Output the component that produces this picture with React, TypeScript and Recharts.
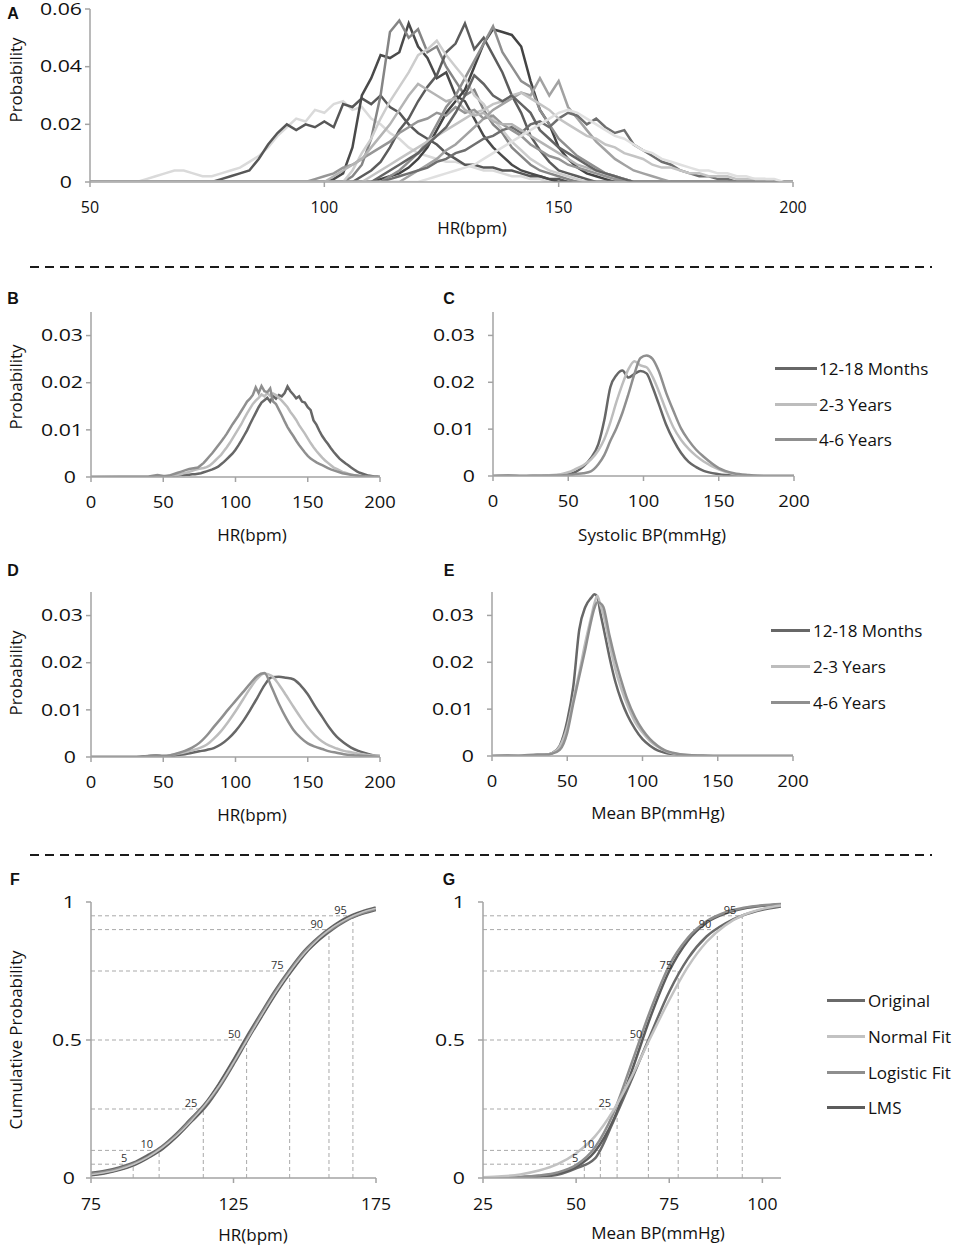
import React from 'react';
import { LineChart, Line, XAxis, YAxis, ReferenceLine, ReferenceDot } from 'recharts';

const FONT = '"Open Sans", "DejaVu Sans", sans-serif';
const AXIS = '#a3a3a3';

// ---------- Panel A: HR probability per age group, 2 bpm bins ----------
const aXTicks = [50, 100, 150, 200];
const aYTicks = [0, 0.02, 0.04, 0.06];
const aStarts = [60, 76, 100, 104, 106, 110, 112, 104, 116, 112, 108, 96, 100, 110, 120];
const aColors = ['#dadada', '#575757', '#4a4a4a', '#858585', '#5c5c5c', '#434343', '#8f8f8f', '#cdcdcd', '#a2a2a2', '#6f6f6f', '#c4c4c4', '#969696', '#b4b4b4', '#646464', '#e0e0e0'];
const a01 = [0, 0.001, 0.002, 0.003, 0.004, 0.004, 0.003, 0.002, 0.002, 0.003, 0.004, 0.005, 0.007, 0.009, 0.012, 0.016, 0.019, 0.022, 0.021, 0.025, 0.024, 0.027, 0.028, 0.025, 0.026, 0.022, 0.02, 0.017, 0.015, 0.012, 0.01, 0.009, 0.008, 0.007, 0.007, 0.006, 0.005, 0.004, 0.004, 0.003, 0.002, 0.002, 0.001, 0.001, 0];
const a02 = [0, 0.001, 0.002, 0.003, 0.004, 0.008, 0.013, 0.017, 0.02, 0.018, 0.02, 0.019, 0.021, 0.019, 0.027, 0.026, 0.029, 0.027, 0.03, 0.026, 0.024, 0.02, 0.017, 0.015, 0.013, 0.01, 0.008, 0.006, 0.006, 0.005, 0.005, 0.004, 0.004, 0.003, 0.002, 0.002, 0.001, 0.001, 0];
const a03 = [0, 0.001, 0.003, 0.012, 0.03, 0.036, 0.044, 0.043, 0.045, 0.055, 0.047, 0.043, 0.036, 0.038, 0.03, 0.028, 0.022, 0.016, 0.012, 0.009, 0.006, 0.004, 0.003, 0.002, 0.001, 0];
const a04 = [0, 0.002, 0.006, 0.015, 0.03, 0.052, 0.056, 0.05, 0.053, 0.045, 0.047, 0.04, 0.035, 0.03, 0.032, 0.025, 0.02, 0.017, 0.012, 0.009, 0.006, 0.004, 0.003, 0.002, 0.001, 0];
const a05 = [0, 0.002, 0.004, 0.007, 0.012, 0.018, 0.022, 0.028, 0.033, 0.037, 0.045, 0.048, 0.055, 0.046, 0.05, 0.044, 0.038, 0.03, 0.024, 0.016, 0.011, 0.007, 0.004, 0.003, 0.002, 0.001, 0];
const a06 = [0, 0.001, 0.002, 0.003, 0.005, 0.008, 0.012, 0.018, 0.024, 0.028, 0.032, 0.04, 0.048, 0.053, 0.052, 0.051, 0.047, 0.035, 0.025, 0.02, 0.012, 0.008, 0.005, 0.003, 0.002, 0.001, 0];
const a07 = [0, 0.002, 0.004, 0.007, 0.01, 0.014, 0.02, 0.026, 0.03, 0.036, 0.042, 0.048, 0.054, 0.045, 0.04, 0.035, 0.033, 0.025, 0.02, 0.015, 0.012, 0.009, 0.007, 0.005, 0.003, 0.002, 0.001, 0];
const a08 = [0, 0.004, 0.01, 0.015, 0.022, 0.028, 0.033, 0.038, 0.044, 0.046, 0.049, 0.044, 0.04, 0.036, 0.03, 0.027, 0.022, 0.018, 0.014, 0.011, 0.008, 0.006, 0.004, 0.003, 0.002, 0.001, 0];
const a09 = [0, 0.002, 0.004, 0.006, 0.008, 0.011, 0.013, 0.016, 0.019, 0.022, 0.025, 0.027, 0.029, 0.031, 0.03, 0.036, 0.03, 0.035, 0.026, 0.022, 0.018, 0.014, 0.011, 0.008, 0.006, 0.004, 0.003, 0.002, 0.001, 0];
const a10 = [0, 0.001, 0.002, 0.003, 0.004, 0.005, 0.007, 0.008, 0.01, 0.011, 0.013, 0.015, 0.016, 0.018, 0.019, 0.017, 0.02, 0.021, 0.019, 0.022, 0.024, 0.023, 0.02, 0.022, 0.019, 0.017, 0.018, 0.013, 0.011, 0.009, 0.007, 0.006, 0.004, 0.003, 0.002, 0.002, 0.001, 0.001, 0];
const a11 = [0, 0.002, 0.004, 0.006, 0.008, 0.01, 0.012, 0.014, 0.016, 0.018, 0.02, 0.022, 0.024, 0.025, 0.027, 0.028, 0.03, 0.031, 0.029, 0.027, 0.025, 0.022, 0.02, 0.018, 0.016, 0.015, 0.013, 0.012, 0.01, 0.009, 0.008, 0.006, 0.005, 0.005, 0.004, 0.003, 0.003, 0.002, 0.002, 0.002, 0.001, 0.001, 0.001, 0.001, 0];
const a12 = [0, 0.001, 0.002, 0.003, 0.005, 0.006, 0.008, 0.01, 0.012, 0.014, 0.017, 0.019, 0.021, 0.022, 0.024, 0.023, 0.026, 0.024, 0.025, 0.022, 0.023, 0.02, 0.018, 0.016, 0.013, 0.011, 0.009, 0.008, 0.006, 0.005, 0.004, 0.003, 0.002, 0.001, 0.001, 0];
const a13 = [0, 0.002, 0.004, 0.006, 0.008, 0.012, 0.016, 0.02, 0.025, 0.03, 0.034, 0.032, 0.03, 0.028, 0.029, 0.025, 0.023, 0.024, 0.021, 0.02, 0.02, 0.018, 0.016, 0.014, 0.012, 0.01, 0.008, 0.006, 0.005, 0.004, 0.003, 0.002, 0.001, 0];
const a14 = [0, 0.002, 0.004, 0.006, 0.008, 0.01, 0.013, 0.016, 0.019, 0.024, 0.03, 0.037, 0.034, 0.03, 0.028, 0.03, 0.027, 0.024, 0.018, 0.015, 0.012, 0.01, 0.008, 0.006, 0.004, 0.003, 0.002, 0.001, 0];
const a15 = [0, 0.001, 0.002, 0.003, 0.004, 0.005, 0.006, 0.008, 0.01, 0.012, 0.014, 0.016, 0.018, 0.02, 0.022, 0.024, 0.025, 0.024, 0.022, 0.02, 0.018, 0.016, 0.015, 0.013, 0.011, 0.01, 0.008, 0.007, 0.006, 0.005, 0.004, 0.004, 0.003, 0.003, 0.002, 0.002, 0.001, 0.001, 0.001, 0];
const aSeries = [a01, a02, a03, a04, a05, a06, a07, a08, a09, a10, a11, a12, a13, a14, a15];

// ---------- Panels B-E: three age groups ----------
const groupNames = ['12-18 Months', '2-3 Years', '4-6 Years'];
const groupColors = ['#676767', '#bdbdbd', '#8f8f8f'];
const densXTicks = [0, 50, 100, 150, 200];
const densYTicks = [0, 0.01, 0.02, 0.03];

// B: HR raw histogram, 2 bpm bins from 40
const bStart = 40;
const bMonths = [0, 0, 0.0001, 0.0001, 0.0001, 0.0001, 0.0001, 0.0001, 0.0002, 0.0003, 0.0003, 0.0004, 0.0004, 0.0005, 0.0005, 0.0006, 0.0006, 0.0007, 0.0008, 0.001, 0.0012, 0.0014, 0.0016, 0.0019, 0.0022, 0.0027, 0.0032, 0.0038, 0.0044, 0.005, 0.0058, 0.0067, 0.0077, 0.0088, 0.0099, 0.0112, 0.0124, 0.0136, 0.0148, 0.0158, 0.0163, 0.0168, 0.016, 0.0172, 0.0166, 0.0174, 0.0171, 0.0178, 0.0192, 0.0182, 0.0175, 0.0167, 0.0171, 0.016, 0.0158, 0.0148, 0.0142, 0.012, 0.0111, 0.0098, 0.0087, 0.0078, 0.007, 0.0061, 0.0053, 0.0046, 0.0039, 0.0034, 0.0029, 0.0025, 0.002, 0.0016, 0.0012, 0.0009, 0.0007, 0.0005, 0.0003, 0.0002, 0.0001, 0.0001, 0];
const bYears23 = [0, 0, 0.0001, 0.0001, 0.0001, 0.0001, 0.0002, 0.0002, 0.0003, 0.0004, 0.0005, 0.0006, 0.0008, 0.0009, 0.0011, 0.0013, 0.0015, 0.0017, 0.0018, 0.0019, 0.0021, 0.0024, 0.0029, 0.0035, 0.0041, 0.0047, 0.0055, 0.0063, 0.0072, 0.0082, 0.0092, 0.0102, 0.0112, 0.0124, 0.0135, 0.0145, 0.0155, 0.0162, 0.0168, 0.0175, 0.0171, 0.0178, 0.0172, 0.0177, 0.0174, 0.0168, 0.0162, 0.0155, 0.0148, 0.0138, 0.013, 0.0121, 0.011, 0.0101, 0.0092, 0.0082, 0.0072, 0.0063, 0.0055, 0.0048, 0.0041, 0.0035, 0.003, 0.0025, 0.002, 0.0017, 0.0014, 0.0011, 0.0009, 0.0007, 0.0005, 0.0004, 0.0003, 0.0002, 0.0001, 0.0001, 0, 0, 0, 0, 0];
const bYears46 = [0.0001, 0.0002, 0.0003, 0.0004, 0.0003, 0.0002, 0.0002, 0.0003, 0.0005, 0.0007, 0.0009, 0.0011, 0.0013, 0.0015, 0.0017, 0.0018, 0.0019, 0.002, 0.0025, 0.003, 0.0037, 0.0044, 0.0051, 0.0059, 0.0067, 0.0075, 0.0083, 0.0092, 0.0102, 0.0112, 0.0121, 0.013, 0.014, 0.015, 0.016, 0.0166, 0.0174, 0.019, 0.0178, 0.0193, 0.0182, 0.018, 0.0188, 0.016, 0.0155, 0.0143, 0.0131, 0.0118, 0.0106, 0.0096, 0.0087, 0.0077, 0.0068, 0.006, 0.0052, 0.0045, 0.0039, 0.0035, 0.0031, 0.0028, 0.0025, 0.0022, 0.0019, 0.0016, 0.0014, 0.0012, 0.001, 0.0008, 0.0007, 0.0006, 0.0005, 0.0004, 0.0003, 0.0002, 0.0002, 0.0001, 0.0001, 0.0001, 0, 0, 0];

// C: systolic BP
const cGrid = [0, 10, 20, 30, 40, 45, 50, 55, 60, 65, 70, 74, 78, 82, 86, 90, 94, 98, 102, 106, 110, 115, 120, 125, 130, 135, 140, 150, 160, 170, 180, 190, 200];
const cMonths = [0, 0.0001, 0, 0.0001, 0.0001, 0.0002, 0.0004, 0.0009, 0.002, 0.0038, 0.0068, 0.012, 0.019, 0.0215, 0.0225, 0.021, 0.0218, 0.0224, 0.0219, 0.019, 0.0155, 0.011, 0.0076, 0.0049, 0.003, 0.0019, 0.0011, 0.0004, 0.0001, 0, 0, 0, 0];
const cYears23 = [0, 0, 0, 0.0001, 0.0002, 0.0004, 0.0008, 0.0015, 0.0023, 0.0035, 0.0055, 0.0079, 0.0115, 0.0158, 0.0196, 0.0228, 0.0245, 0.0236, 0.0232, 0.0212, 0.0182, 0.014, 0.0103, 0.0077, 0.0058, 0.0043, 0.0031, 0.0014, 0.0004, 0.0001, 0, 0, 0];
const cYears46 = [0, 0, 0, 0, 0.0001, 0.0001, 0.0002, 0.0004, 0.0006, 0.001, 0.0025, 0.0045, 0.0075, 0.0102, 0.0135, 0.0175, 0.0218, 0.0252, 0.0257, 0.025, 0.0225, 0.0178, 0.0138, 0.0101, 0.0076, 0.0056, 0.0041, 0.0017, 0.0006, 0.0002, 0, 0, 0];

// D: HR smoothed, 5 bpm steps from 0
const dStart = 0;
const dMonths = [0, 0, 0, 0, 0, 0, 0, 0.0001, 0.0002, 0.0003, 0.0002, 0.0002, 0.0004, 0.0006, 0.0009, 0.0012, 0.0015, 0.0019, 0.0027, 0.0039, 0.0055, 0.0075, 0.0099, 0.0125, 0.0152, 0.0169, 0.017, 0.0168, 0.0165, 0.0152, 0.0133, 0.0108, 0.0085, 0.0062, 0.0043, 0.003, 0.002, 0.0013, 0.0008, 0.0004, 0.0002];
const dYears23 = [0, 0, 0, 0, 0, 0, 0, 0, 0.0001, 0.0001, 0.0002, 0.0004, 0.0007, 0.001, 0.0014, 0.0019, 0.0026, 0.0039, 0.0055, 0.0075, 0.0097, 0.0121, 0.0145, 0.0166, 0.0177, 0.0172, 0.0154, 0.0131, 0.0107, 0.0084, 0.0063, 0.0046, 0.0033, 0.0024, 0.0018, 0.0013, 0.001, 0.0007, 0.0005, 0.0003, 0.0002];
const dYears46 = [0, 0, 0, 0, 0, 0, 0, 0, 0.0002, 0.0003, 0.0002, 0.0004, 0.0008, 0.0013, 0.002, 0.003, 0.0045, 0.0064, 0.0082, 0.0101, 0.0119, 0.0137, 0.0155, 0.0172, 0.0178, 0.0148, 0.0113, 0.0083, 0.0058, 0.0041, 0.0029, 0.0022, 0.0017, 0.0012, 0.0009, 0.0006, 0.0004, 0.0003, 0.0002, 0.0001, 0];

// E: mean BP
const eGrid = [0, 10, 20, 30, 35, 40, 45, 50, 54, 58, 62, 66, 68, 70, 72, 74, 78, 82, 86, 90, 95, 100, 105, 110, 115, 120, 130, 140, 150, 160, 170, 180, 190, 200];
const eMonths = [0, 0.0001, 0, 0.0002, 0.0002, 0.0006, 0.0022, 0.0075, 0.0148, 0.027, 0.0318, 0.0338, 0.0345, 0.034, 0.0305, 0.0275, 0.0212, 0.0158, 0.0118, 0.0087, 0.0058, 0.0036, 0.0022, 0.0012, 0.0007, 0.0004, 0.0001, 0, 0, 0, 0, 0, 0, 0];
const eYears23 = [0, 0, 0, 0.0001, 0.0002, 0.0006, 0.002, 0.0062, 0.012, 0.0178, 0.0242, 0.0298, 0.0325, 0.0342, 0.0322, 0.0302, 0.024, 0.0185, 0.0143, 0.0108, 0.0073, 0.005, 0.0032, 0.002, 0.0011, 0.0006, 0.0002, 0.0001, 0, 0, 0, 0, 0, 0];
const eYears46 = [0, 0, 0.0001, 0.0003, 0.0003, 0.0005, 0.0013, 0.005, 0.0112, 0.017, 0.0228, 0.029, 0.0315, 0.0328, 0.0326, 0.0318, 0.0258, 0.0205, 0.016, 0.012, 0.0083, 0.0056, 0.0036, 0.0022, 0.0012, 0.0007, 0.0002, 0.0001, 0, 0, 0, 0, 0, 0];

// ---------- Panels F-G: cumulative probability and fits ----------
const fitNames = ['Original', 'Normal Fit', 'Logistic Fit', 'LMS'];
const fitColors = ['#6a6a6a', '#c2c2c2', '#8e8e8e', '#5c5c5c'];
const pctLevels = [5, 10, 25, 50, 75, 90, 95];
const cumYTicks = [0, 0.5, 1];

const fXTicks = [75, 125, 175];
const fStart = 75;
const fOriginal = [0.014, 0.022, 0.034, 0.051, 0.078, 0.11, 0.155, 0.208, 0.262, 0.335, 0.42, 0.51, 0.595, 0.678, 0.752, 0.818, 0.868, 0.908, 0.94, 0.961, 0.976];
const fNormal = [0.012, 0.02, 0.032, 0.05, 0.076, 0.11, 0.153, 0.205, 0.265, 0.335, 0.418, 0.505, 0.592, 0.675, 0.75, 0.815, 0.868, 0.91, 0.94, 0.962, 0.977];
const fLogistic = [0.015, 0.023, 0.035, 0.052, 0.077, 0.111, 0.156, 0.21, 0.264, 0.333, 0.418, 0.508, 0.597, 0.68, 0.754, 0.82, 0.87, 0.907, 0.938, 0.96, 0.975];
const fLms = [0.013, 0.021, 0.033, 0.05, 0.077, 0.109, 0.154, 0.207, 0.262, 0.336, 0.421, 0.51, 0.594, 0.677, 0.751, 0.817, 0.867, 0.909, 0.94, 0.961, 0.976];
const fPctHr = [89.8, 98.9, 114.4, 129.6, 144.7, 158.5, 166.9];

const gXTicks = [25, 50, 75, 100];
const gStart = 25;
const gOriginal = [0, 0.001, 0.002, 0.005, 0.012, 0.035, 0.07, 0.205, 0.36, 0.52, 0.675, 0.795, 0.875, 0.922, 0.953, 0.972, 0.984];
const gNormal = [0.003, 0.006, 0.013, 0.027, 0.05, 0.09, 0.15, 0.245, 0.37, 0.51, 0.645, 0.765, 0.855, 0.915, 0.953, 0.975, 0.987];
const gLogistic = [0.001, 0.002, 0.004, 0.009, 0.02, 0.047, 0.11, 0.235, 0.42, 0.61, 0.77, 0.87, 0.93, 0.962, 0.979, 0.988, 0.993];
const gLms = [0, 0.001, 0.003, 0.007, 0.016, 0.04, 0.095, 0.21, 0.39, 0.585, 0.75, 0.86, 0.925, 0.958, 0.976, 0.986, 0.992];
const gPctBp = [52.2, 56.5, 61.0, 69.4, 77.4, 87.9, 94.6];

// ---------- helpers ----------
type Pt = { x: number; y: number };
const binned = (start: number, step: number, vals: number[]): Pt[] => vals.map((y, i) => ({ x: start + i * step, y }));
const onGrid = (xs: number[], vals: number[]): Pt[] => xs.map((x, i) => ({ x, y: vals[i] }));
// zero outside the measured range
const padded = (pts: Pt[], lo: number, hi: number): Pt[] => {
    const out = [...pts];
    if (out[0].x > lo) out.unshift({ x: lo, y: 0 });
    if (out[out.length - 1].x < hi) out.push({ x: hi, y: 0 });
    return out;
};

const NumTick = (props: any) => {
    const { x, y, payload, side, sx = 1, intShift = 0 } = props;
    const v = payload.value;
    const label = String(v);
    if (side === 'left') {
        const shift = Number.isInteger(v) ? intShift : 0;
        return (
            <text transform={`translate(${x - shift},${y}) scale(${sx},1)`} textAnchor="end" dy="0.36em"
                fontFamily={FONT} fontSize={16} fill="#111">
                {label}
            </text>
        );
    }
    return (
        <text transform={`translate(${x},${y}) scale(${sx},1)`} textAnchor="middle" dy="0.71em"
            fontFamily={FONT} fontSize={16} fill="#111">
            {label}
        </text>
    );
};

interface FrameProps {
    L: number; T: number; R: number; B: number;
    xDomain: [number, number]; xTicks: number[];
    yDomain: [number, number]; yTicks: number[];
    xMargin: number; xScale: number;
    yMargin: number; intShift: number;
    children: React.ReactNode;
}

function Frame({ L, T, R, B, xDomain, xTicks, yDomain, yTicks, xMargin, xScale, yMargin, intShift, children }: FrameProps) {
    const yw = 70, xh = 45, mt = 20, mr = 30;
    const axisLine = { stroke: AXIS, strokeWidth: 1.5 };
    return (
        <div style={{ position: 'absolute', left: L - yw, top: T - mt }}>
            <LineChart width={R - L + yw + mr} height={B - T + mt + xh} margin={{ top: mt, right: mr, bottom: 0, left: 0 }}>
                <XAxis type="number" dataKey="x" domain={xDomain} ticks={xTicks} interval={0} allowDataOverflow
                    height={xh} axisLine={axisLine} tickLine={axisLine} tickSize={5} tickMargin={xMargin}
                    tick={<NumTick side="bottom" sx={xScale} />} />
                <YAxis type="number" domain={yDomain} ticks={yTicks} interval={0} allowDataOverflow
                    width={yw} axisLine={axisLine} tickLine={axisLine} tickSize={5} tickMargin={yMargin}
                    tick={<NumTick side="left" sx={1.33} intShift={intShift} />} />
                {children}
            </LineChart>
        </div>
    );
}

const seriesLine = (key: string, pts: Pt[], color: string, width: number, type: 'linear' | 'monotone') => (
    <Line key={key} data={pts} dataKey="y" type={type} stroke={color} strokeWidth={width}
        dot={false} activeDot={false} isAnimationActive={false} />
);

const percentileGuides = (xs: number[], x0: number) =>
    pctLevels.flatMap((lvl, i) => {
        const p = lvl / 100;
        return [
            <ReferenceLine key={`h${lvl}`} segment={[{ x: x0, y: p }, { x: xs[i], y: p }]}
                stroke="#a9a9a9" strokeWidth={1} strokeDasharray="4 3" />,
            <ReferenceLine key={`v${lvl}`} segment={[{ x: xs[i], y: 0 }, { x: xs[i], y: p }]}
                stroke="#a9a9a9" strokeWidth={1} strokeDasharray="4 3" />,
        ];
    });

const percentileLabels = (xs: number[]) =>
    pctLevels.map((lvl, i) => (
        <ReferenceDot key={`l${lvl}`} x={xs[i]} y={lvl / 100} r={0} fill="none" stroke="none"
            label={{ value: String(lvl), position: 'left', offset: 6, dy: -6, fontSize: 11, fill: '#333', fontFamily: FONT }} />
    ));

const Text = ({ x, y, children, rotate = false, size = 17, bold = false, family = FONT }: any) => (
    <div style={{
        position: 'absolute', left: x, top: y, transform: `translate(-50%, -50%)${rotate ? ' rotate(-90deg)' : ''}`,
        fontFamily: family, fontSize: size, fontWeight: bold ? 700 : 400, color: '#111', whiteSpace: 'nowrap', lineHeight: 1,
    }}>
        {children}
    </div>
);

const LegendBox = ({ x0, x1, textX, rows, names, colors }: any) => (
    <>
        {names.map((n: string, i: number) => (
            <React.Fragment key={n}>
                <div style={{ position: 'absolute', left: x0, top: rows[i] - 1.5, width: x1 - x0, height: 3, background: colors[i] }} />
                <div style={{ position: 'absolute', left: textX, top: rows[i], transform: 'translateY(-50%)', fontFamily: FONT, fontSize: 17, color: '#111', whiteSpace: 'nowrap', lineHeight: 1 }}>
                    {n}
                </div>
            </React.Fragment>
        ))}
    </>
);

const Separator = ({ y }: { y: number }) => (
    <svg style={{ position: 'absolute', left: 0, top: y - 2 }} width={954} height={4}>
        <line x1={30} x2={932} y1={2} y2={2} stroke="#1a1a1a" strokeWidth={2} strokeDasharray="9 6" />
    </svg>
);

const LETTER_FONT = '"Liberation Sans", Arial, sans-serif';

export default function App() {
    const aLines = aSeries.map((vals, i) => padded(binned(aStarts[i], 2, vals), 50, 200));
    const bLines = [bMonths, bYears23, bYears46].map((v) => padded(binned(bStart, 2, v), 0, 200));
    const cLines = [cMonths, cYears23, cYears46].map((v) => onGrid(cGrid, v));
    const dLines = [dMonths, dYears23, dYears46].map((v) => binned(dStart, 5, v));
    const eLines = [eMonths, eYears23, eYears46].map((v) => onGrid(eGrid, v));
    const fLines = [fOriginal, fNormal, fLogistic, fLms].map((v) => binned(fStart, 5, v));
    const gLines = [gOriginal, gNormal, gLogistic, gLms].map((v) => binned(gStart, 5, v));
    const fitWidths = [5, 1.5, 2.5, 3.5];
    const fitOrder = [0, 3, 2, 1];

    return (
        <div style={{ position: 'absolute', left: 0, top: 0, width: 954, height: 1251, background: '#fff', overflow: 'hidden' }}>
            {/* A */}
            <Frame L={90} T={9} R={793} B={182} xDomain={[50, 200]} xTicks={aXTicks} yDomain={[0, 0.06]} yTicks={aYTicks}
                xMargin={15} xScale={1} yMargin={3} intShift={10}>
                {aLines.map((pts, i) => seriesLine(`a${i}`, pts, aColors[i], 2.5, 'linear'))}
            </Frame>
            <Text x={13} y={14} bold size={16} family={LETTER_FONT}>A</Text>
            <Text x={472} y={227}>HR(bpm)</Text>
            <Text x={15} y={80} rotate>Probability</Text>

            <Separator y={267} />

            {/* B */}
            <Frame L={91} T={312} R={380} B={477} xDomain={[0, 200]} xTicks={densXTicks} yDomain={[0, 0.035]} yTicks={densYTicks}
                xMargin={15} xScale={1.15} yMargin={3} intShift={7}>
                {bLines.map((pts, i) => seriesLine(`b${i}`, pts, groupColors[i], 2.5, 'linear'))}
            </Frame>
            <Text x={13} y={299} bold size={16} family={LETTER_FONT}>B</Text>
            <Text x={252} y={534}>HR(bpm)</Text>
            <Text x={15} y={387} rotate>Probability</Text>

            {/* C */}
            <Frame L={493} T={312} R={794} B={476} xDomain={[0, 200]} xTicks={densXTicks} yDomain={[0, 0.035]} yTicks={densYTicks}
                xMargin={15} xScale={1.15} yMargin={13} intShift={0}>
                {cLines.map((pts, i) => seriesLine(`c${i}`, pts, groupColors[i], 2.5, 'monotone'))}
            </Frame>
            <Text x={449} y={299} bold size={16} family={LETTER_FONT}>C</Text>
            <Text x={652} y={534}>Systolic BP(mmHg)</Text>
            <LegendBox x0={775} x1={817} textX={819} rows={[368, 404, 439]} names={groupNames} colors={groupColors} />

            {/* D */}
            <Frame L={91} T={592} R={380} B={757} xDomain={[0, 200]} xTicks={densXTicks} yDomain={[0, 0.035]} yTicks={densYTicks}
                xMargin={15} xScale={1.15} yMargin={3} intShift={7}>
                {dLines.map((pts, i) => seriesLine(`d${i}`, pts, groupColors[i], 2.5, 'monotone'))}
            </Frame>
            <Text x={13} y={571} bold size={16} family={LETTER_FONT}>D</Text>
            <Text x={252} y={814}>HR(bpm)</Text>
            <Text x={15} y={673} rotate>Probability</Text>

            {/* E */}
            <Frame L={492} T={592} R={793} B={756} xDomain={[0, 200]} xTicks={densXTicks} yDomain={[0, 0.035]} yTicks={densYTicks}
                xMargin={15} xScale={1.15} yMargin={13} intShift={0}>
                {eLines.map((pts, i) => seriesLine(`e${i}`, pts, groupColors[i], 2.5, 'monotone'))}
            </Frame>
            <Text x={449} y={571} bold size={16} family={LETTER_FONT}>E</Text>
            <Text x={658} y={812}>Mean BP(mmHg)</Text>
            <LegendBox x0={771} x1={810} textX={813} rows={[630, 666, 702]} names={groupNames} colors={groupColors} />

            <Separator y={855} />

            {/* F */}
            <Frame L={91} T={902} R={376} B={1178} xDomain={[75, 175]} xTicks={fXTicks} yDomain={[0, 1]} yTicks={cumYTicks}
                xMargin={16} xScale={1.1} yMargin={4} intShift={7}>
                {percentileGuides(fPctHr, 75)}
                {fitOrder.map((k) => seriesLine(`f${k}`, fLines[k], fitColors[k], fitWidths[k], 'monotone'))}
                {percentileLabels(fPctHr)}
            </Frame>
            <Text x={15} y={880} bold size={16} family={LETTER_FONT}>F</Text>
            <Text x={253} y={1234}>HR(bpm)</Text>
            <Text x={15} y={1040} rotate>Cumulative Probability</Text>

            {/* G */}
            <Frame L={483} T={902} R={781} B={1178} xDomain={[25, 105]} xTicks={gXTicks} yDomain={[0, 1]} yTicks={cumYTicks}
                xMargin={16} xScale={1.1} yMargin={13} intShift={0}>
                {percentileGuides(gPctBp, 25)}
                {fitOrder.map((k) => seriesLine(`g${k}`, gLines[k], fitColors[k], 2.5, 'monotone'))}
                {percentileLabels(gPctBp)}
            </Frame>
            <Text x={449} y={880} bold size={16} family={LETTER_FONT}>G</Text>
            <Text x={658} y={1232}>Mean BP(mmHg)</Text>
            <LegendBox x0={827} x1={865} textX={868} rows={[1000, 1036, 1072, 1107]} names={fitNames} colors={fitColors} />
        </div>
    );
}
